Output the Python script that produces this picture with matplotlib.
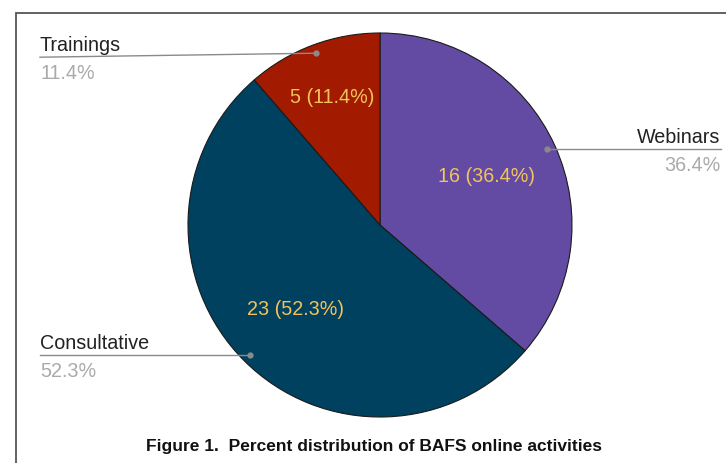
import numpy as np
import matplotlib
matplotlib.use("Agg")
import matplotlib.pyplot as plt
from matplotlib.patches import Rectangle

plt.rcParams['font.family'] = ['Liberation Sans', 'DejaVu Sans']

categories = ["Webinars", "Consultative", "Trainings"]
counts = [16, 23, 5]
colors = ["#634ba4", "#00415f", "#a21a00"]
title = "Figure 1.  Percent distribution of BAFS online activities"

W, H = 726, 463
fig = plt.figure(figsize=(W / 100, H / 100), dpi=100)
ax = fig.add_axes([0, 0, 1, 1])
ax.set_xlim(0, W)
ax.set_ylim(0, H)
ax.axis('off')

# border box (extends past right/bottom edges)
ax.add_patch(Rectangle((16, -20), 800, H - 13 + 20, fill=False,
                       edgecolor="#555555", linewidth=1.3))

cx, cy, R = 380, H - 225, 192
wedges, _ = ax.pie(counts, colors=colors, startangle=90, counterclock=False,
                   center=(cx, cy), radius=R,
                   wedgeprops=dict(edgecolor="#1a1a1a", linewidth=0.8))
ax.set_xlim(0, W)
ax.set_ylim(0, H)
ax.set_aspect('equal')

total = sum(counts)
inner_frac = {"Webinars": 0.61, "Consultative": 0.625, "Trainings": 0.71}
ext = {
    "Webinars": dict(x=720, ha="right", lx=721),
    "Consultative": dict(x=40, ha="left", lx=40),
    "Trainings": dict(x=40, ha="left", lx=40),
}
FS = 14.2
for w, name, c in zip(wedges, categories, counts):
    mid = np.deg2rad((w.theta1 + w.theta2) / 2)
    pct = 100 * c / total
    f = inner_frac[name]
    ax.text(cx + f * R * np.cos(mid), cy + f * R * np.sin(mid),
            f"{c} ({pct:.1f}%)", ha="center", va="center",
            color="#f1c35c", fontsize=FS)
    dx, dy = cx + 0.955 * R * np.cos(mid), cy + 0.955 * R * np.sin(mid)
    e = ext[name]
    ly = dy if name != "Trainings" else dy - 4
    ax.plot([dx, e["lx"]], [dy, ly], color="#8a8a8a", linewidth=1.0)
    ax.plot([dx], [dy], marker="o", markersize=3.5, color="#8a8a8a")
    ax.text(e["x"], ly + 6, name, ha=e["ha"], va="baseline",
            color="#222222", fontsize=FS)
    ax.text(e["x"], ly - 7, f"{pct:.1f}%", ha=e["ha"], va="top",
            color="#aaaaaa", fontsize=FS)

ax.text(W / 2 + 11, H - 451, title, ha="center", va="baseline",
        fontsize=12.5, fontweight="bold", color="#111111")

fig.savefig("out.png", dpi=100)
